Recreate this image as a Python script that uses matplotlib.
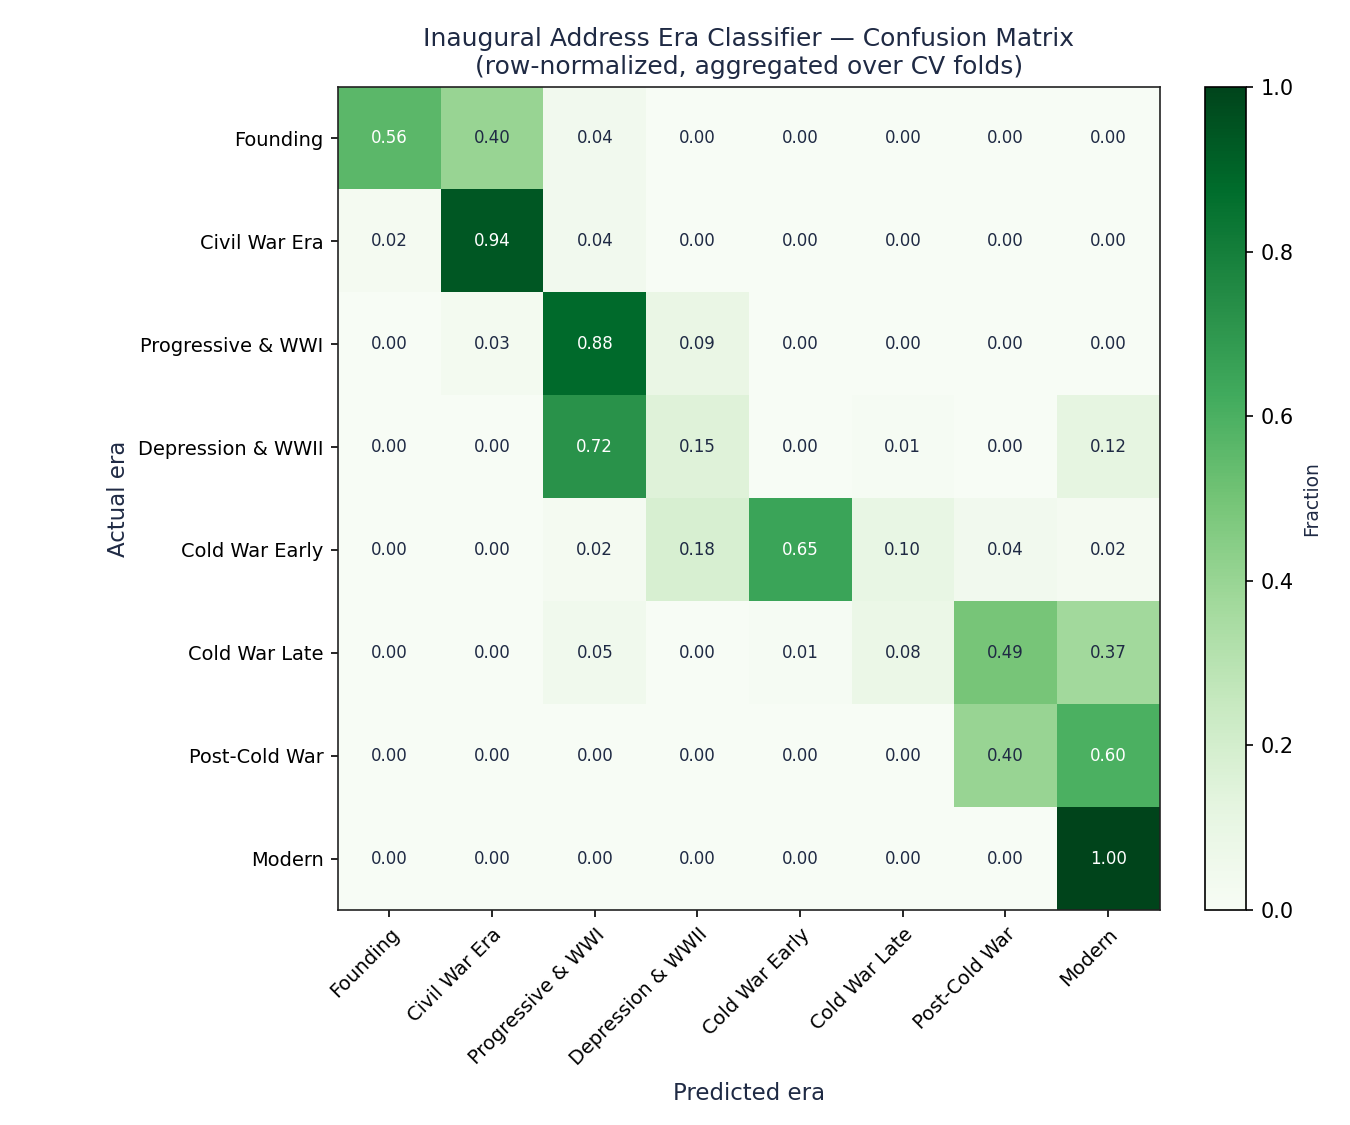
import numpy as np
import matplotlib
matplotlib.use('Agg')
import matplotlib.pyplot as plt

eras = ['Founding', 'Civil War Era', 'Progressive & WWI', 'Depression & WWII',
        'Cold War Early', 'Cold War Late', 'Post-Cold War', 'Modern']

# row-normalized confusion matrix (rows = actual, cols = predicted)
row_founding = [0.56, 0.40, 0.04, 0.00, 0.00, 0.00, 0.00, 0.00]
row_civil_war = [0.02, 0.94, 0.04, 0.00, 0.00, 0.00, 0.00, 0.00]
row_progressive = [0.00, 0.03, 0.88, 0.09, 0.00, 0.00, 0.00, 0.00]
row_depression = [0.00, 0.00, 0.72, 0.15, 0.00, 0.01, 0.00, 0.12]
row_cw_early = [0.00, 0.00, 0.02, 0.18, 0.65, 0.10, 0.04, 0.02]
row_cw_late = [0.00, 0.00, 0.05, 0.00, 0.01, 0.08, 0.49, 0.37]
row_post_cw = [0.00, 0.00, 0.00, 0.00, 0.00, 0.00, 0.40, 0.60]
row_modern = [0.00, 0.00, 0.00, 0.00, 0.00, 0.00, 0.00, 1.00]

cm = np.array([row_founding, row_civil_war, row_progressive, row_depression,
               row_cw_early, row_cw_late, row_post_cw, row_modern])

text_color = '#1f2a44'

fig = plt.figure(figsize=(9, 7.5), dpi=150)
ax = fig.add_axes([0.2504, 0.1911, 0.6085, 0.7316])
im = ax.imshow(cm, cmap='Greens', vmin=0, vmax=1, aspect='auto')

# annotate cells, white text on the dark ones
for i in range(cm.shape[0]):
    for j in range(cm.shape[1]):
        v = cm[i, j]
        ax.text(j, i, f'{v:.2f}', ha='center', va='center', fontsize=8,
                color='white' if v > 0.5 else text_color)

ax.set_xticks(range(len(eras)))
ax.set_yticks(range(len(eras)))
ax.set_xticklabels(eras, rotation=45, ha='right', rotation_mode='anchor', fontsize=9.3)
ax.set_yticklabels(eras, fontsize=9.3)
ax.set_xlabel('Predicted era', fontsize=11, color=text_color, labelpad=6)
ax.set_ylabel('Actual era', fontsize=11, color=text_color)
ax.set_title('Inaugural Address Era Classifier \u2014 Confusion Matrix\n(row-normalized, aggregated over CV folds)',
             fontsize=12, color=text_color, pad=6, linespacing=1.25)
for s in ax.spines.values():
    s.set_color('#222222')

cax = fig.add_axes([0.8926, 0.1911, 0.0304, 0.7316])
cb = fig.colorbar(im, cax=cax)
cb.set_label('Fraction', fontsize=9, color=text_color)
cb.ax.tick_params(labelsize=10)

plt.savefig('out.png', dpi=150)
